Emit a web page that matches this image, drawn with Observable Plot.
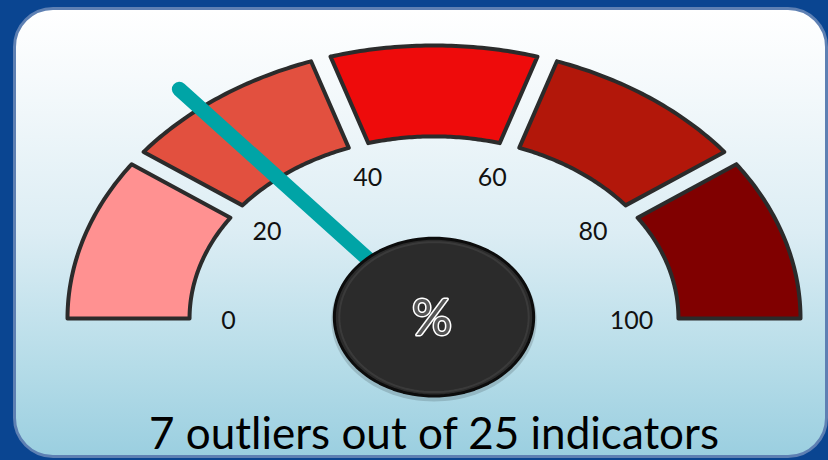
<!DOCTYPE html>
<html><head><meta charset="utf-8">
<script src="https://cdn.jsdelivr.net/npm/d3@7"></script>
<script src="https://cdn.jsdelivr.net/npm/@observablehq/plot@0.6"></script>
<style>
html,body{margin:0;padding:0;}
body{width:828px;height:460px;overflow:hidden;background:#0a4591;position:relative;font-family:Lato,"Open Sans",sans-serif;}
#panel{position:absolute;left:13px;top:7px;width:815px;height:451px;border-radius:40px;border:3px solid #5e80b3;box-sizing:border-box;
 background:linear-gradient(#ffffff 0%, #f6fafc 15%, #dcedf4 50%, #b5dce8 80%, #9bcfe0 100%);}
#chart{position:absolute;left:0;top:0;}
</style></head><body>
<div id="panel"></div><div id="chart"></div>
<script>
// ---- data ----
const bandStarts = [0, 20, 40, 60, 80];
const bandEnds = [20, 40, 60, 80, 100];
const bandColors = ["#ff9191", "#e2503f", "#ee0b0b", "#b2170a", "#800000"];
const tickValues = [0, 20, 40, 60, 80, 100];
const tickLabels = ["0", "20", "40", "60", "80", "100"];
const needleValue = 28;
const centerLabel = "%";
const titleText = "7 outliers out of 25 indicators";

// ---- geometry (unit gauge space) ----
const outerR = 1, innerR = 0.667, labelR = 0.55, needleLen = 1.09, gap = 0.028;
const hubRx = 0.272, hubRy = 0.289;
const angle = v => Math.PI * (1 - v / 100);

function bandPath(a, b) {
  const pts = [], n = 48;
  const ta = r => angle(a) - (a > 0 ? gap / r : 0);
  const tb = r => angle(b) + (b < 100 ? gap / r : 0);
  for (let i = 0; i <= n; i++) {
    const t = ta(outerR) + (tb(outerR) - ta(outerR)) * i / n;
    pts.push({x: outerR * Math.cos(t), y: outerR * Math.sin(t)});
  }
  for (let i = 0; i <= n; i++) {
    const t = tb(innerR) + (ta(innerR) - tb(innerR)) * i / n;
    pts.push({x: innerR * Math.cos(t), y: innerR * Math.sin(t)});
  }
  pts.push(pts[0]);
  return pts;
}
function ellipse(rx, ry, cy) {
  const pts = [];
  for (let i = 0; i <= 120; i++) {
    const t = 2 * Math.PI * i / 120;
    pts.push({x: rx * Math.cos(t), y: cy + ry * Math.sin(t)});
  }
  return pts;
}

const marks = [];
bandStarts.forEach((a, i) => {
  marks.push(Plot.line(bandPath(a, bandEnds[i]), {x: "x", y: "y", fill: bandColors[i], stroke: "#2b2b2b", strokeWidth: 4, strokeLinejoin: "round"}));
});
marks.push(Plot.text(tickValues, {
  x: v => labelR * Math.cos(angle(v)), y: v => labelR * Math.sin(angle(v)),
  text: (v, i) => tickLabels[i], fontSize: 25, fill: "#111", dx: -4, dy: 2
}));
marks.push(Plot.link([needleValue], {
  x1: () => 0, y1: () => 0,
  x2: v => needleLen * Math.cos(angle(v)), y2: v => needleLen * Math.sin(angle(v)),
  stroke: "#00a4a6", strokeWidth: 15, strokeLinecap: "round"
}));
// hub shadow + hub
marks.push(Plot.line(ellipse(hubRx * 1.03, hubRy * 1.03, -0.006), {x: "x", y: "y", fill: "#000", fillOpacity: 0.15, stroke: "none"}));
marks.push(Plot.line(ellipse(hubRx, hubRy, 0.005), {x: "x", y: "y", fill: "#2b2b2b", stroke: "#0c0c0c", strokeWidth: 3}));
marks.push(Plot.line(ellipse(hubRx * 0.95, hubRy * 0.95, 0.005), {x: "x", y: "y", fill: "none", stroke: "#4a4a4a", strokeOpacity: 0.5, strokeWidth: 2}));
marks.push(Plot.text([centerLabel], {x: () => 0, y: () => 0, text: d => d, fontSize: 50, fill: "#555", stroke: "white", strokeWidth: 3, dx: -2}));
marks.push(Plot.text([titleText], {x: () => 0, frameAnchor: "bottom", lineAnchor: "bottom", dy: -12, text: d => d, fontSize: 44, fill: "#000"}));

const plot = Plot.plot({
  width: 828, height: 460, margin: 0,
  x: {domain: [-1, 1], range: [67, 800], axis: null},
  y: {domain: [0, 1], range: [318, 45], axis: null},
  style: {background: "transparent", fontFamily: "Lato, 'Open Sans', sans-serif"},
  marks
});
document.getElementById("chart").appendChild(plot);
</script>
</body></html>
